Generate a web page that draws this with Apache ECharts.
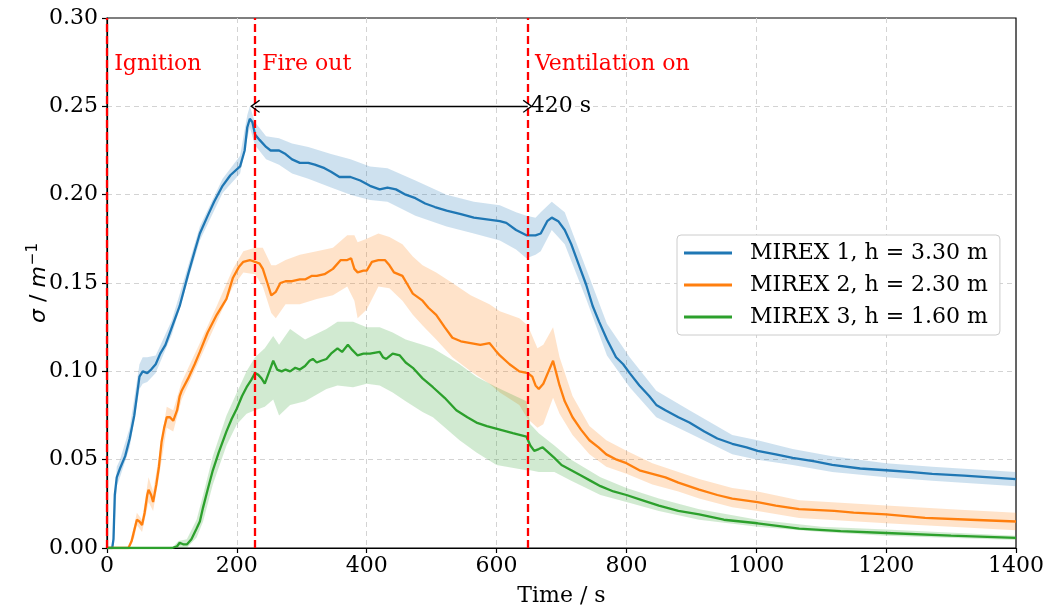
<!DOCTYPE html>
<html><head><meta charset="utf-8">
<script src="https://cdn.jsdelivr.net/npm/echarts@6/dist/echarts.min.js"></script>
<style>html,body{margin:0;padding:0;background:#fff}#c{width:1047px;height:612px}</style>
</head><body><div id="c"></div>
<script>
// ---- data: [time s, sigma] ----
const names = ['MIREX 1, h = 3.30 m', 'MIREX 2, h = 2.30 m', 'MIREX 3, h = 1.60 m'];
const colors = ['#1f77b4', '#ff7f0e', '#2ca02c'];
const xTicks = [0, 200, 400, 600, 800, 1000, 1200, 1400];
const yTicks = [0, 0.05, 0.10, 0.15, 0.20, 0.25, 0.30];
const events = [[0, 'Ignition'], [228, 'Fire out'], [648, 'Ventilation on']];
const gapLabel = '420 s';

const m1 = [[0,0],[8,0],[10,0.005],[12,0.03],[15,0.040],[20,0.045],[28,0.052],[35,0.062],[42,0.075],[50,0.097],[55,0.100],[62,0.099],[68,0.101],[75,0.104],[82,0.110],[90,0.115],[100,0.125],[112,0.137],[125,0.155],[135,0.168],[143,0.178],[155,0.188],[165,0.196],[178,0.205],[190,0.211],[205,0.216],[212,0.225],[216,0.238],[220,0.243],[224,0.241],[228,0.234],[235,0.231],[245,0.227],[252,0.225],[265,0.225],[275,0.223],[285,0.220],[297,0.218],[310,0.218],[320,0.217],[335,0.215],[345,0.213],[358,0.210],[375,0.210],[390,0.208],[405,0.205],[420,0.203],[432,0.204],[445,0.203],[460,0.200],[475,0.198],[490,0.195],[505,0.193],[523,0.191],[545,0.189],[565,0.187],[585,0.186],[605,0.185],[615,0.184],[630,0.180],[646,0.177],[660,0.177],[668,0.178],[678,0.185],[685,0.187],[695,0.185],[705,0.180],[715,0.172],[725,0.162],[738,0.149],[748,0.137],[758,0.128],[770,0.118],[784,0.108],[795,0.104],[805,0.099],[820,0.092],[835,0.086],[846,0.081],[860,0.078],[880,0.074],[897,0.071],[920,0.066],[940,0.062],[963,0.059],[985,0.057],[1002,0.055],[1030,0.053],[1056,0.051],[1090,0.049],[1117,0.047],[1160,0.045],[1200,0.044],[1240,0.043],[1271,0.042],[1320,0.041],[1360,0.040],[1400,0.039]];
const m1Band = [[0,0,0],[8,0,0],[10,0,0.008],[15,0.035,0.046],[20,0.040,0.050],[35,0.057,0.068],[50,0.090,0.104],[55,0.093,0.108],[62,0.094,0.108],[75,0.099,0.109],[100,0.121,0.129],[143,0.174,0.182],[178,0.201,0.209],[205,0.212,0.222],[216,0.232,0.245],[220,0.238,0.250],[228,0.228,0.241],[245,0.220,0.233],[265,0.217,0.232],[285,0.212,0.229],[310,0.209,0.227],[345,0.204,0.223],[375,0.200,0.220],[405,0.197,0.216],[432,0.196,0.215],[475,0.188,0.208],[523,0.182,0.200],[565,0.178,0.196],[605,0.174,0.194],[630,0.169,0.190],[646,0.164,0.188],[660,0.166,0.187],[668,0.168,0.190],[685,0.180,0.196],[705,0.172,0.190],[738,0.141,0.158],[770,0.109,0.127],[805,0.091,0.108],[846,0.074,0.089],[897,0.065,0.078],[963,0.053,0.064],[1002,0.050,0.061],[1056,0.047,0.056],[1117,0.043,0.052],[1200,0.040,0.048],[1271,0.038,0.046],[1400,0.035,0.043]];

const m2 = [[0,0],[33,0],[38,0.004],[42,0.010],[46,0.016],[50,0.015],[54,0.013],[58,0.020],[62,0.030],[64,0.033],[68,0.030],[71,0.026],[76,0.036],[80,0.046],[84,0.060],[88,0.068],[92,0.074],[97,0.074],[102,0.072],[108,0.078],[112,0.086],[115,0.089],[125,0.096],[135,0.104],[143,0.111],[155,0.122],[169,0.132],[184,0.141],[194,0.153],[203,0.159],[210,0.162],[220,0.163],[228,0.162],[235,0.161],[240,0.158],[247,0.150],[253,0.143],[260,0.145],[267,0.150],[275,0.151],[285,0.151],[297,0.152],[305,0.152],[315,0.154],[323,0.154],[335,0.155],[348,0.158],[360,0.163],[370,0.163],[376,0.164],[381,0.158],[386,0.156],[395,0.157],[400,0.157],[408,0.162],[418,0.163],[428,0.163],[435,0.160],[442,0.156],[455,0.154],[463,0.149],[471,0.144],[486,0.140],[495,0.136],[507,0.132],[520,0.125],[532,0.119],[545,0.117],[560,0.116],[575,0.115],[589,0.116],[598,0.112],[605,0.109],[620,0.104],[635,0.100],[648,0.099],[655,0.097],[660,0.092],[665,0.090],[672,0.093],[680,0.100],[687,0.106],[692,0.099],[697,0.092],[705,0.083],[717,0.074],[730,0.067],[743,0.061],[757,0.057],[769,0.053],[785,0.050],[800,0.048],[820,0.044],[840,0.042],[860,0.040],[880,0.037],[912,0.033],[940,0.030],[963,0.028],[1002,0.026],[1030,0.024],[1066,0.022],[1120,0.021],[1150,0.020],[1200,0.019],[1260,0.017],[1330,0.016],[1400,0.015]];
const m2Band = [[0,0,0],[33,0,0],[42,0.006,0.013],[46,0.013,0.020],[54,0.009,0.016],[64,0.026,0.040],[71,0.021,0.032],[80,0.040,0.052],[92,0.068,0.080],[102,0.066,0.078],[115,0.084,0.094],[143,0.107,0.116],[169,0.128,0.137],[194,0.148,0.158],[210,0.156,0.168],[228,0.155,0.170],[240,0.148,0.170],[253,0.133,0.160],[260,0.130,0.160],[275,0.138,0.163],[297,0.138,0.166],[323,0.141,0.168],[348,0.143,0.170],[370,0.148,0.177],[381,0.140,0.177],[386,0.130,0.173],[400,0.135,0.175],[418,0.148,0.178],[435,0.147,0.176],[455,0.140,0.172],[471,0.132,0.165],[486,0.126,0.160],[507,0.118,0.156],[532,0.108,0.150],[560,0.100,0.143],[589,0.093,0.138],[605,0.088,0.134],[635,0.081,0.130],[648,0.073,0.126],[663,0.068,0.113],[672,0.070,0.115],[687,0.085,0.125],[697,0.076,0.108],[717,0.064,0.086],[743,0.053,0.069],[769,0.046,0.061],[800,0.042,0.055],[840,0.036,0.048],[880,0.032,0.043],[912,0.028,0.039],[963,0.023,0.034],[1002,0.021,0.032],[1066,0.017,0.027],[1200,0.014,0.024],[1300,0.012,0.022],[1400,0.010,0.020]];

const m3 = [[0,0],[100,0],[108,0.001],[112,0.003],[118,0.002],[123,0.002],[130,0.005],[138,0.011],[143,0.015],[148,0.023],[155,0.033],[163,0.044],[172,0.054],[184,0.066],[192,0.073],[200,0.079],[208,0.086],[215,0.091],[222,0.095],[228,0.099],[233,0.098],[238,0.096],[243,0.093],[249,0.099],[256,0.106],[262,0.101],[269,0.100],[275,0.101],[282,0.100],[290,0.102],[297,0.101],[305,0.103],[312,0.106],[317,0.107],[323,0.105],[330,0.106],[338,0.107],[345,0.110],[355,0.113],[362,0.111],[371,0.115],[378,0.112],[386,0.109],[395,0.110],[405,0.110],[420,0.111],[425,0.108],[430,0.107],[440,0.110],[451,0.109],[460,0.105],[471,0.102],[486,0.096],[502,0.091],[520,0.085],[538,0.078],[555,0.074],[569,0.071],[585,0.069],[605,0.067],[625,0.065],[646,0.063],[652,0.058],[658,0.055],[665,0.056],[671,0.057],[680,0.054],[689,0.051],[700,0.047],[715,0.044],[730,0.041],[745,0.038],[760,0.035],[780,0.032],[800,0.030],[825,0.027],[850,0.024],[880,0.021],[912,0.019],[950,0.016],[1002,0.014],[1066,0.011],[1130,0.0095],[1200,0.0085],[1300,0.007],[1400,0.0057]];
const m3Band = [[0,0,0],[100,0,0],[110,0,0.004],[123,0,0.005],[138,0.006,0.016],[148,0.015,0.030],[163,0.036,0.052],[184,0.058,0.075],[200,0.070,0.088],[215,0.076,0.100],[228,0.078,0.108],[243,0.080,0.113],[256,0.084,0.120],[265,0.075,0.115],[282,0.081,0.124],[305,0.083,0.118],[338,0.090,0.124],[355,0.092,0.128],[379,0.091,0.128],[400,0.093,0.125],[420,0.092,0.125],[440,0.088,0.122],[460,0.083,0.118],[486,0.077,0.115],[502,0.074,0.113],[543,0.061,0.104],[569,0.054,0.097],[600,0.047,0.091],[646,0.044,0.083],[652,0.044,0.070],[665,0.043,0.065],[689,0.043,0.058],[715,0.038,0.050],[760,0.030,0.040],[800,0.026,0.034],[850,0.021,0.028],[912,0.016,0.022],[1002,0.012,0.016],[1100,0.009,0.012],[1200,0.007,0.0105],[1400,0.0045,0.007]];

const serif = 'DejaVu Serif';
const chart = echarts.init(document.getElementById('c'), null, {renderer: 'canvas'});

function band(pts, color) {
  return {
    type: 'custom', silent: true, z: 1, clip: true,
    data: pts, encode: {x: 0, y: [1, 2]},
    renderItem: function (params, api) {
      if (params.dataIndex !== 0) return null;
      const up = pts.map(p => api.coord([p[0], p[2]]));
      const dn = pts.map(p => api.coord([p[0], p[1]])).reverse();
      return {type: 'polygon', shape: {points: up.concat(dn)}, style: {fill: color, opacity: 0.22}};
    }
  };
}
function line(name, pts, color) {
  return {type: 'line', name: name, data: pts, showSymbol: false, symbol: 'none', z: 3,
    lineStyle: {color: color, width: 2.3}, itemStyle: {color: color}};
}

const s1 = line(names[0], m1, colors[0]);
const s2 = line(names[1], m2, colors[1]);
const s3 = line(names[2], m3, colors[2]);

s1.markLine = {
  silent: true, symbol: ['none', 'none'], animation: false,
  lineStyle: {color: '#ff0000', type: [8, 4], width: 2.3},
  label: {show: false},
  data: events.map(e => ({xAxis: e[0]}))
};
s1.markPoint = {
  silent: true, symbol: 'circle', symbolSize: 0, animation: false,
  label: {show: true, position: 'right', distance: 0, formatter: '{b}', color: '#ff0000',
    fontFamily: serif, fontSize: 22},
  data: events.map(e => ({name: e[1], coord: [e[0] + 11, 0.274]}))
};
const arrowPath = 'path://M0,0 L7,10 L6,11 L0,2.6 L-6,11 L-7,10 Z';
s2.markLine = {
  silent: true, animation: false,
  symbol: [arrowPath, arrowPath], symbolSize: [13, 10],
  lineStyle: {color: '#000', type: 'solid', width: 1.3},
  label: {show: true, position: 'end', distance: 3, formatter: gapLabel, color: '#000',
    fontFamily: serif, fontSize: 22},
  data: [[{coord: [events[1][0], 0.25]}, {coord: [events[2][0], 0.25]}]]
};

const option = {
  animation: false,
  backgroundColor: '#fff',
  grid: {left: 107, right: 30, top: 18, bottom: 61, show: true, borderColor: '#000', borderWidth: 1.2, backgroundColor: 'transparent'},
  legend: {
    data: names, orient: 'vertical', left: 677, top: 235,
    icon: 'rect', itemWidth: 48, itemHeight: 3, itemGap: 10,
    padding: [7, 12, 7, 7],
    backgroundColor: '#fff', borderColor: '#cccccc', borderWidth: 1, borderRadius: 4,
    textStyle: {fontFamily: serif, fontSize: 22, color: '#000', padding: [0, 0, 0, 13]}
  },
  xAxis: {
    type: 'value', min: xTicks[0], max: xTicks[xTicks.length - 1], interval: 200,
    name: 'Time / s', nameLocation: 'middle', nameGap: 37,
    nameTextStyle: {fontFamily: serif, fontSize: 22, color: '#000'},
    axisLine: {show: true, lineStyle: {color: '#000', width: 1.2}},
    axisTick: {show: true, length: 5, lineStyle: {color: '#000', width: 1.2}},
    axisLabel: {fontFamily: serif, fontSize: 22, color: '#000', margin: 7, formatter: v => String(v)},
    splitLine: {show: true, showMinLine: false, showMaxLine: false, lineStyle: {color: '#d3d3d3', type: [5, 4], width: 1}}
  },
  yAxis: {
    type: 'value', min: yTicks[0], max: yTicks[yTicks.length - 1], interval: 0.05,
    name: '{a|σ} / {a|m}{s|−1}', nameLocation: 'middle', nameGap: 68, nameMoveOverlap: false,
    nameTextStyle: {fontFamily: 'DejaVu Sans', fontSize: 22, color: '#000', verticalAlign: 'middle',
      rich: {a: {fontFamily: 'DejaVu Sans', fontSize: 22, fontStyle: 'italic'},
             s: {fontFamily: 'DejaVu Sans', fontSize: 15, verticalAlign: 'bottom', padding: [0, 0, 12, 1]}}},
    axisLine: {show: true, lineStyle: {color: '#000', width: 1.2}},
    axisTick: {show: true, length: 5, lineStyle: {color: '#000', width: 1.2}},
    axisLabel: {fontFamily: serif, fontSize: 22, color: '#000', margin: 9, formatter: v => v.toFixed(2)},
    splitLine: {show: true, showMinLine: false, showMaxLine: false, lineStyle: {color: '#d3d3d3', type: [5, 4], width: 1}}
  },
  series: [band(m1Band, colors[0]), band(m2Band, colors[1]), band(m3Band, colors[2]), s1, s2, s3]
};
chart.setOption(option);
</script>
</body></html>
